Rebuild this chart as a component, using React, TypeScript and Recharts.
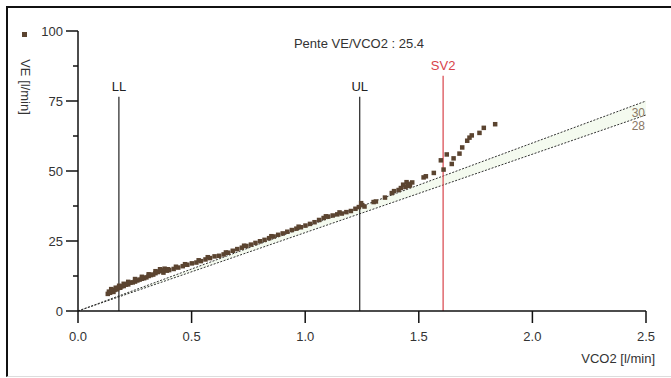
import {
  ComposedChart,
  XAxis,
  YAxis,
  Scatter,
  Line,
  Area,
  ReferenceLine,
} from 'recharts';

// VE vs VCO2 samples [VCO2 l/min, VE l/min]
const vco2 = [
  0.13, 0.135, 0.14, 0.15, 0.155, 0.16, 0.17, 0.175, 0.185, 0.19, 0.2, 0.21, 0.22, 0.23, 0.24,
  0.25, 0.26, 0.27, 0.28, 0.29, 0.3, 0.31, 0.32, 0.33, 0.34, 0.35, 0.36, 0.37, 0.375, 0.39,
  0.4, 0.42, 0.44, 0.46, 0.48, 0.5, 0.52, 0.54, 0.56, 0.58, 0.6, 0.62, 0.64, 0.66, 0.68,
  0.7, 0.72, 0.74, 0.76, 0.78, 0.8, 0.82, 0.84, 0.86, 0.88, 0.9, 0.92, 0.94, 0.96, 0.98,
  1.0, 1.02, 1.04, 1.06, 1.08, 1.1, 1.12, 1.14, 1.16, 1.18, 1.2, 1.22, 1.235, 1.25, 1.26,
  1.3, 1.31, 1.35, 1.38, 1.39, 1.41, 1.42, 1.44, 1.45, 1.46, 1.47, 1.52, 1.53, 1.565, 1.596,
  1.608, 1.622, 1.644, 1.652, 1.678, 1.69, 1.712, 1.722, 1.732, 1.766, 1.785, 1.835,
  0.145, 0.165, 0.18, 0.2, 0.22, 0.25, 0.28, 0.31, 0.34, 0.36, 0.38, 0.395, 0.43, 0.47,
  0.53, 0.57, 0.65, 0.73, 0.85, 0.97, 1.09, 1.15, 1.245, 1.43, 1.445, 1.455,
];
const ve = [
  6.2, 7.0, 6.6, 7.4, 6.9, 7.6, 7.8, 8.3, 8.4, 8.9, 9.0, 9.5, 9.6, 10.2, 10.3,
  10.6, 11.0, 11.3, 11.6, 11.8, 12.1, 12.6, 12.9, 13.1, 13.6, 14.0, 14.3, 14.6, 13.8, 14.5,
  14.7, 15.1, 15.6, 16.1, 16.6, 17.1, 17.4, 17.9, 18.5, 19.0, 19.6, 19.8, 20.3, 20.9, 21.6,
  22.2, 22.7, 23.3, 23.8, 24.4, 25.0, 25.5, 26.1, 26.7, 27.3, 27.8, 28.4, 29.0, 29.5, 30.0,
  30.6, 31.2, 31.8, 32.6, 33.3, 33.8, 34.2, 34.6, 34.9, 35.4, 35.8, 36.6, 37.2, 37.9, 37.4,
  39.0, 39.2, 40.6, 42.2, 42.9, 43.3, 44.0, 44.4, 45.5, 45.0, 46.0, 47.8, 48.2, 49.4, 53.9,
  50.6, 56.0, 52.6, 54.6, 56.3, 58.5, 60.9, 62.0, 62.8, 63.7, 65.5, 66.8,
  7.9, 8.4, 9.1, 9.8, 10.5, 11.5, 12.3, 13.2, 14.3, 15.0, 15.2, 15.0, 15.9, 16.8,
  18.2, 19.3, 21.0, 23.4, 26.8, 30.2, 33.9, 35.3, 38.6, 45.2, 46.1, 44.8,
];

// thresholds on VCO2
const thresholds = [
  { name: 'LL', x: 0.18, top: 76.5, color: '#222' },
  { name: 'UL', x: 1.24, top: 76.5, color: '#222' },
  { name: 'SV2', x: 1.607, top: 84, color: '#d8434a' },
];

// reference slopes
const slopeLow = 28;
const slopeHigh = 30;
const slopeText = 'Pente VE/VCO2 : 25.4';

const xTicks = [0, 0.5, 1, 1.5, 2, 2.5];
const yTicks = [0, 12.5, 25, 37.5, 50, 62.5, 75, 87.5, 100];

const points = vco2.map((x, i) => ({ x, ve: ve[i] }));
const band = [0, 2.5].map((x) => ({
  x,
  lo: x * slopeLow,
  hi: x * slopeHigh,
  range: [x * slopeLow, x * slopeHigh],
}));

const ink = '#333';
const brown = '#5b4430';
const font = '"Liberation Sans", Arial, sans-serif';

const XTick = (props: any) => {
  const { x, y, payload } = props;
  return (
    <g>
      <line x1={x} x2={x} y1={y} y2={y + 12} stroke="#111" strokeWidth={1.5} />
      <text x={x} y={y + 30} textAnchor="middle" fontSize={13} fill={ink} fontFamily={font}>
        {payload.value.toFixed(1)}
      </text>
    </g>
  );
};

const YTick = (props: any) => {
  const { x, y, payload } = props;
  const major = payload.value % 25 === 0;
  return (
    <g>
      <line x1={x - (major ? 12 : 5)} x2={x} y1={y} y2={y} stroke="#111" strokeWidth={1.5} />
      {major && (
        <text x={x - 15} y={y + 5} textAnchor="end" fontSize={13} fill={ink} fontFamily={font}>
          {payload.value}
        </text>
      )}
    </g>
  );
};

const Square = (props: any) => {
  const { cx, cy } = props;
  if (cx == null || cy == null) return null;
  return <rect x={cx - 2} y={cy - 2} width={4.5} height={4.5} fill={brown} />;
};

const endLabel = (text: string, dy: number) => (props: any) => {
  const { x, y, index } = props;
  if (index !== 1) return null;
  return (
    <text x={x - 1} y={y + dy} textAnchor="end" fontSize={12} fill="#8a7866" fontFamily={font}>
      {text}
    </text>
  );
};

export default function App() {
  return (
    <div
      style={{
        position: 'fixed',
        left: 0,
        top: 0,
        width: 671,
        height: 378,
        overflow: 'hidden',
        background: '#fff',
      }}
    >
      <div
        style={{
          position: 'absolute',
          left: 6,
          top: 6,
          width: 700,
          height: 368,
          borderLeft: '2px solid #111',
          borderTop: '2px solid #111',
          borderBottom: '1px solid #ddd',
        }}
      />
      <ComposedChart
        width={671}
        height={378}
        margin={{ top: 31, right: 25, left: 0, bottom: 0 }}
        style={{ position: 'absolute', left: 0, top: 0 }}
      >
        <XAxis
          type="number"
          dataKey="x"
          domain={[0, 2.5]}
          ticks={xTicks}
          height={67}
          tickSize={0}
          tickMargin={0}
          tickLine={false}
          axisLine={{ stroke: '#111', strokeWidth: 1.5 }}
          tick={<XTick />}
          allowDataOverflow
        />
        <YAxis
          type="number"
          domain={[0, 100]}
          ticks={yTicks}
          width={78}
          tickSize={0}
          tickMargin={0}
          tickLine={false}
          axisLine={{ stroke: '#111', strokeWidth: 1.5 }}
          tick={<YTick />}
          interval={0}
        />
        <Area
          data={band}
          dataKey="range"
          type="linear"
          stroke="none"
          fill="#edf7e4"
          isAnimationActive={false}
        />
        <Line
          data={band}
          dataKey="hi"
          type="linear"
          stroke={ink}
          strokeDasharray="2 1.5"
          dot={false}
          label={endLabel(String(slopeHigh), 16)}
          isAnimationActive={false}
        />
        <Line
          data={band}
          dataKey="lo"
          type="linear"
          stroke={ink}
          strokeDasharray="2 1.5"
          dot={false}
          label={endLabel(String(slopeLow), 15)}
          isAnimationActive={false}
        />
        {thresholds.map((t) => (
          <ReferenceLine
            key={t.name}
            segment={[
              { x: t.x, y: 0 },
              { x: t.x, y: t.top },
            ]}
            stroke={t.color}
            strokeWidth={1.2}
            label={{
              value: t.name,
              position: 'top',
              fill: t.color,
              fontSize: 13,
              fontFamily: font,
              offset: 6,
            }}
          />
        ))}
        <Scatter data={points} dataKey="ve" shape={<Square />} isAnimationActive={false} />
      </ComposedChart>
      <svg
        width={671}
        height={378}
        style={{ position: 'absolute', left: 0, top: 0, pointerEvents: 'none' }}
      >
        <rect x={22} y={32} width={5} height={5} fill={brown} />
        <text x={359} y={48} textAnchor="middle" fontSize={13} fill={ink} fontFamily={font}>
          {slopeText}
        </text>
        <text
          transform="translate(21 87) rotate(90)"
          textAnchor="middle"
          fontSize={13}
          fill={ink}
          fontFamily={font}
        >
          VE [l/min]
        </text>
        <text x={655} y={363} textAnchor="end" fontSize={13} fill={ink} fontFamily={font}>
          VCO2 [l/min]
        </text>
      </svg>
    </div>
  );
}
